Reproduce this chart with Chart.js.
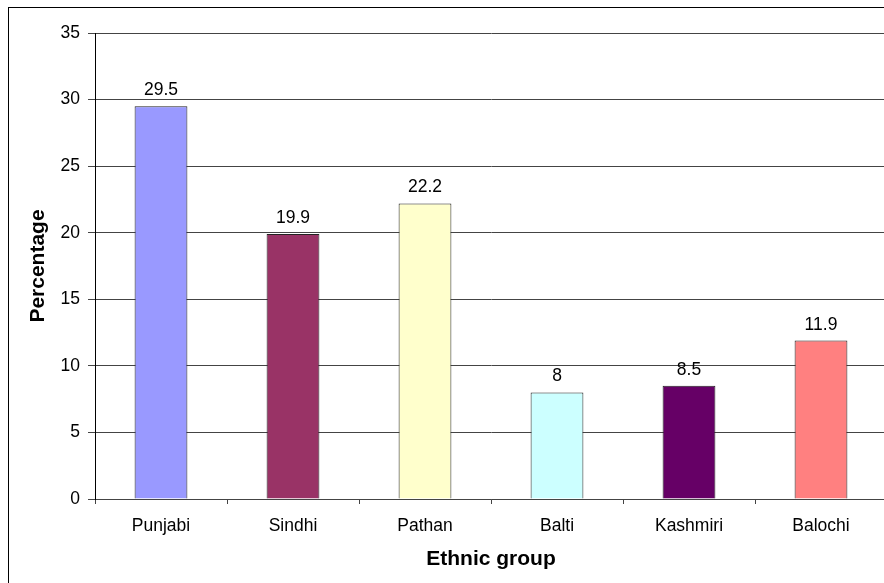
<!DOCTYPE html>
<html>
<head>
<meta charset="utf-8">
<script src="https://cdn.jsdelivr.net/npm/chart.js@4"></script>
<style>
  html, body { margin: 0; padding: 0; background: #fff; overflow: hidden; }
  #wrap { position: relative; width: 884px; height: 583px; overflow: hidden; }
  #frame { position: absolute; left: 8px; top: 7px; width: 1000px; height: 1000px; border: 1px solid #000; }
  #chart { position: absolute; left: 0; top: 0; }
</style>
</head>
<body>
<div id="wrap">
  <div id="frame"></div>
  <canvas id="chart" width="890" height="600"></canvas>
</div>
<script>
const groups = ['Punjabi', 'Sindhi', 'Pathan', 'Balti', 'Kashmiri', 'Balochi'];
const values = [29.5, 19.9, 22.2, 8, 8.5, 11.9];
const barColors = ['#9999FF', '#993366', '#FFFFCC', '#CCFFFF', '#660066', '#FF8080'];
const yTicks = [0, 5, 10, 15, 20, 25, 30, 35];

const FONT = '"Liberation Sans", Arial, sans-serif';
const GRID = '#444';

// etiquetas de valor encima de cada barra
const valueLabels = {
  id: 'valueLabels',
  afterDatasetsDraw(chart) {
    const ctx = chart.ctx;
    const meta = chart.getDatasetMeta(0);
    ctx.save();
    ctx.font = '17.5px ' + FONT;
    ctx.fillStyle = '#000';
    ctx.textAlign = 'center';
    ctx.textBaseline = 'alphabetic';
    meta.data.forEach((bar, i) => {
      ctx.fillText(String(values[i]), bar.x, bar.y - 11);
    });
    ctx.restore();
  }
};

const ctx = document.getElementById('chart').getContext('2d');

new Chart(ctx, {
  type: 'bar',
  data: {
    labels: groups,
    datasets: [{
      data: values,
      backgroundColor: barColors,
      borderColor: '#222',
      borderWidth: 1,
      barPercentage: 0.4,
      categoryPercentage: 1
    }]
  },
  options: {
    responsive: false,
    animation: false,
    layout: { padding: { top: 33, right: 3, left: 0, bottom: 0 } },
    plugins: {
      legend: { display: false },
      tooltip: { enabled: false }
    },
    scales: {
      x: {
        grid: { offset: true, drawOnChartArea: false, tickLength: 5, color: GRID },
        border: { color: GRID },
        ticks: { color: '#000', font: { family: FONT, size: 17.5 }, padding: 11.5 },
        title: {
          display: true,
          text: 'Ethnic group',
          color: '#000',
          font: { family: FONT, size: 21, weight: 'bold' },
          padding: { top: 0, bottom: 28.4 }
        },
        afterFit(scale) { scale.height = 600 - 499; }
      },
      y: {
        min: 0,
        max: 35,
        afterBuildTicks(scale) { scale.ticks = yTicks.map(v => ({ value: v })); },
        grid: { color: GRID, tickLength: 7 },
        border: { color: '#000' },
        ticks: { color: '#000', font: { family: FONT, size: 17.5 }, padding: 8 },
        title: {
          display: true,
          text: 'Percentage',
          color: '#000',
          font: { family: FONT, size: 21, weight: 'bold' },
          padding: { top: 25.4, bottom: 0 }
        },
        afterFit(scale) { scale.width = 95; }
      }
    }
  },
  plugins: [valueLabels]
});
</script>
</body>
</html>
